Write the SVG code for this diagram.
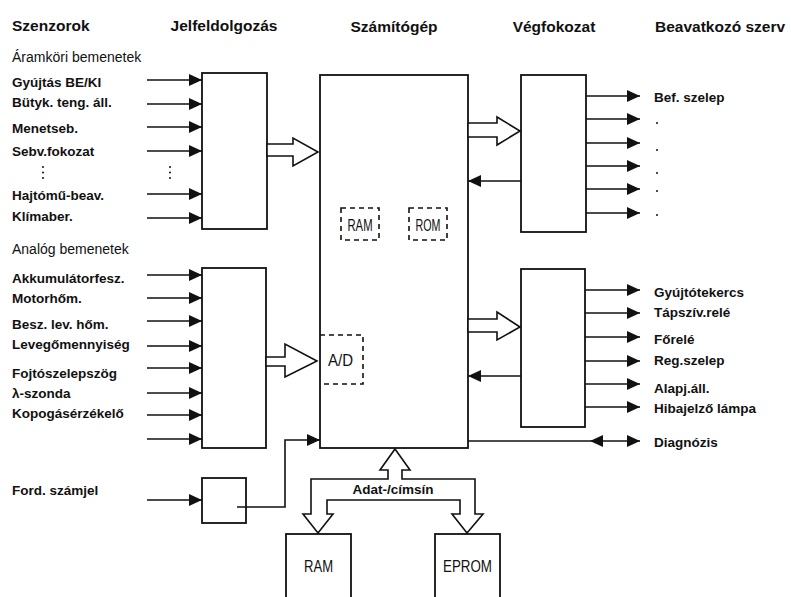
<svg xmlns="http://www.w3.org/2000/svg" width="791" height="597" viewBox="0 0 791 597">
<style>
.hdr{font-family:"Liberation Sans",Arial,sans-serif;font-weight:bold;font-size:15.5px;fill:#111}
.sub{font-family:"Liberation Sans",Arial,sans-serif;font-size:14px;fill:#111}
.lbl{font-family:"Liberation Sans",Arial,sans-serif;font-weight:bold;font-size:13.5px;fill:#111}
.inner{font-family:"Liberation Sans",Arial,sans-serif;font-size:17px;fill:#111}
.box{fill:#fff;stroke:#111;stroke-width:1.8}
.dash{fill:none;stroke:#111;stroke-width:1.6;stroke-dasharray:5 4}
.ln{fill:none;stroke:#111;stroke-width:1.6}
.arr{fill:none;stroke:#111;stroke-width:1.6;marker-end:url(#ah)}
.hollow{fill:#fff;stroke:#111;stroke-width:1.6;stroke-linejoin:miter}
.dot{fill:#111}
</style>
<defs>
<marker id="ah" viewBox="0 0 13 12" refX="13" refY="6" markerWidth="13" markerHeight="12" markerUnits="userSpaceOnUse" orient="auto">
<path d="M0,0 L13,6 L0,12 Z" fill="#111"/>
</marker>
</defs>
<rect width="791" height="597" fill="#fff"/>

<g id="headers">
<text class="hdr" x="12" y="31">Szenzorok</text>
<text class="hdr" x="224" y="31" text-anchor="middle">Jelfeldolgozás</text>
<text class="hdr" x="394" y="32" text-anchor="middle">Számítógép</text>
<text class="hdr" x="554" y="32" text-anchor="middle">Végfokozat</text>
<text class="hdr" x="655" y="32" font-size="15">Beavatkozó szerv</text>
</g>

<g id="sensor-labels">
<text class="sub" x="12" y="62">Áramköri bemenetek</text>
<text class="lbl" x="12" y="87">Gyújtás BE/KI</text>
<text class="lbl" x="12" y="107">Bütyk. teng. áll.</text>
<text class="lbl" x="12" y="133">Menetseb.</text>
<text class="lbl" x="12" y="156">Sebv.fokozat</text>
<circle class="dot" cx="43" cy="167" r="1"/>
<circle class="dot" cx="43" cy="172.5" r="1"/>
<circle class="dot" cx="43" cy="178" r="1"/>
<text class="lbl" x="12" y="200">Hajtómű-beav.</text>
<text class="lbl" x="12" y="221">Klímaber.</text>
<text class="sub" x="12" y="254">Analóg bemenetek</text>
<text class="lbl" x="12" y="283">Akkumulátorfesz.</text>
<text class="lbl" x="12" y="303">Motorhőm.</text>
<text class="lbl" x="12" y="329">Besz. lev. hőm.</text>
<text class="lbl" x="12" y="349">Levegőmennyiség</text>
<text class="lbl" x="12" y="378">Fojtószelepszög</text>
<text class="lbl" x="12" y="398">λ-szonda</text>
<text class="lbl" x="12" y="418">Kopogásérzékelő</text>
<text class="lbl" x="12" y="495">Ford. számjel</text>
</g>

<g id="actuator-labels">
<text class="lbl" x="654" y="102">Bef. szelep</text>
<circle class="dot" cx="657" cy="123" r="1"/>
<circle class="dot" cx="657" cy="150" r="1"/>
<circle class="dot" cx="657" cy="173" r="1"/>
<circle class="dot" cx="657" cy="191" r="1"/>
<circle class="dot" cx="657" cy="215" r="1"/>
<text class="lbl" x="654" y="297">Gyújtótekercs</text>
<text class="lbl" x="654" y="317">Tápszív.relé</text>
<text class="lbl" x="654" y="344">Főrelé</text>
<text class="lbl" x="654" y="365">Reg.szelep</text>
<text class="lbl" x="654" y="393">Alapj.áll.</text>
<text class="lbl" x="654" y="413">Hibajelző lámpa</text>
<text class="lbl" x="654" y="447">Diagnózis</text>
</g>

<g id="proc1"><rect class="box" x="202" y="73" width="65" height="156"/>
<circle class="dot" cx="170" cy="167" r="1"/>
<circle class="dot" cx="170" cy="172.5" r="1"/>
<circle class="dot" cx="170" cy="178" r="1"/>
</g>
<g id="proc2"><rect class="box" x="202" y="268" width="64" height="180"/></g>
<g id="proc3"><rect class="box" x="202" y="478" width="44" height="45"/></g>

<g id="computer">
<rect class="box" x="320" y="75" width="148" height="373"/>
<rect class="dash" x="341" y="208" width="38" height="32"/>
<text class="inner" x="360" y="231" text-anchor="middle" textLength="25" lengthAdjust="spacingAndGlyphs">RAM</text>
<rect class="dash" x="409" y="208" width="38" height="32"/>
<text class="inner" x="428" y="231" text-anchor="middle" textLength="25" lengthAdjust="spacingAndGlyphs">ROM</text>
<path class="dash" d="M320,335 H363 V384 H320"/>
<text class="inner" x="340.5" y="366" text-anchor="middle" textLength="25" lengthAdjust="spacingAndGlyphs">A/D</text>
</g>

<g id="stage1"><rect class="box" x="521" y="75" width="65" height="157"/></g>
<g id="stage2"><rect class="box" x="521" y="269" width="64" height="158"/></g>

<g id="ram"><rect class="box" x="286" y="534" width="65" height="70"/>
<text class="inner" x="318.5" y="572" text-anchor="middle" font-size="16" textLength="29" lengthAdjust="spacingAndGlyphs">RAM</text></g>
<g id="eprom"><rect class="box" x="435" y="534" width="65" height="70"/>
<text class="inner" x="467.5" y="572" text-anchor="middle" font-size="16" textLength="49" lengthAdjust="spacingAndGlyphs">EPROM</text></g>

<g id="connectors">
<line class="arr" x1="147" y1="80" x2="202" y2="80"/>
<line class="arr" x1="147" y1="104" x2="202" y2="104"/>
<line class="arr" x1="147" y1="127" x2="202" y2="127"/>
<line class="arr" x1="147" y1="151" x2="202" y2="151"/>
<line class="arr" x1="147" y1="194" x2="202" y2="194"/>
<line class="arr" x1="147" y1="218" x2="202" y2="218"/>
<line class="arr" x1="147" y1="275" x2="202" y2="275"/>
<line class="arr" x1="147" y1="298" x2="202" y2="298"/>
<line class="arr" x1="147" y1="321" x2="202" y2="321"/>
<line class="arr" x1="147" y1="346" x2="202" y2="346"/>
<line class="arr" x1="147" y1="368" x2="202" y2="368"/>
<line class="arr" x1="147" y1="393" x2="202" y2="393"/>
<line class="arr" x1="147" y1="415" x2="202" y2="415"/>
<line class="arr" x1="147" y1="439" x2="202" y2="439"/>
<line class="arr" x1="147" y1="500" x2="202" y2="500"/>
<path class="arr" d="M237,507 H285 V440 H320"/>

<polygon class="hollow" points="267,144 293,144 293,138 318,152 293,166 293,156 267,156"/>
<polygon class="hollow" points="266,357 285,357 285,344 317,361 285,377 285,366 266,366"/>
<polygon class="hollow" points="468,123 497,123 497,117 520,131 497,145 497,137 468,137"/>
<polygon class="hollow" points="468,319 497,319 497,312 520,327 497,340 497,332 468,332"/>

<line class="arr" x1="521" y1="181" x2="468" y2="181"/>
<line class="arr" x1="521" y1="376" x2="468" y2="376"/>

<line class="arr" x1="586" y1="96" x2="640" y2="96"/>
<line class="arr" x1="586" y1="119" x2="640" y2="119"/>
<line class="arr" x1="586" y1="143" x2="640" y2="143"/>
<line class="arr" x1="586" y1="166" x2="640" y2="166"/>
<line class="arr" x1="586" y1="189" x2="640" y2="189"/>
<line class="arr" x1="586" y1="213" x2="640" y2="213"/>
<line class="arr" x1="585" y1="290" x2="640" y2="290"/>
<line class="arr" x1="585" y1="313" x2="640" y2="313"/>
<line class="arr" x1="585" y1="337" x2="640" y2="337"/>
<line class="arr" x1="585" y1="361" x2="640" y2="361"/>
<line class="arr" x1="585" y1="384" x2="640" y2="384"/>
<line class="arr" x1="585" y1="407" x2="640" y2="407"/>

<line class="arr" x1="468" y1="441" x2="640" y2="441"/>
<path d="M590,441 L603,435 L603,447 Z" fill="#111"/>

<polygon class="hollow" points="395,449 410,470 402,470 402,479 475,479 475,514 483,514 467,533 452,514 460,514 460,500 327,500 327,514 333,514 318,533 303,514 311,514 311,479 388,479 388,470 380,470"/>
<text class="lbl" x="393" y="494" text-anchor="middle" font-size="13">Adat-/címsín</text>
</g>
</svg>
